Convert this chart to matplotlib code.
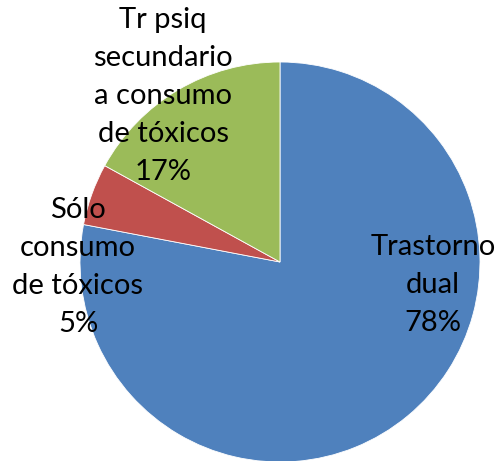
import matplotlib
matplotlib.use("Agg")
import matplotlib.pyplot as plt

categories = ["Trastorno\ndual", "Sólo\nconsumo\nde tóxicos", "Tr psiq\nsecundario\na consumo\nde tóxicos"]
values = [78, 5, 17]
colors = ["#4F81BD", "#C0504D", "#9BBB59"]

W, H = 504, 461
fig = plt.figure(figsize=(W / 100, H / 100), dpi=100)
ax = fig.add_axes([0, 0, 1, 1])

cx, cy, r = 280, H - 262, 200
wedges, _ = ax.pie(values, colors=colors, startangle=90, counterclock=False,
                   center=(cx, cy), radius=r,
                   wedgeprops=dict(edgecolor="white", linewidth=0.6))

label_pos = [(433, 285), (78, 267), (163, 96)]
for cat, v, (x, y) in zip(categories, values, label_pos):
    ax.text(x, H - y, f"{cat}\n{v}%", ha="center", va="center",
            multialignment="center", fontsize=21, family=["Lato", "DejaVu Sans"],
            linespacing=1.58, color="black")

ax.set_xlim(0, W)
ax.set_ylim(0, H)
ax.set_aspect("auto")
ax.axis("off")
fig.savefig("out.png", dpi=100)
